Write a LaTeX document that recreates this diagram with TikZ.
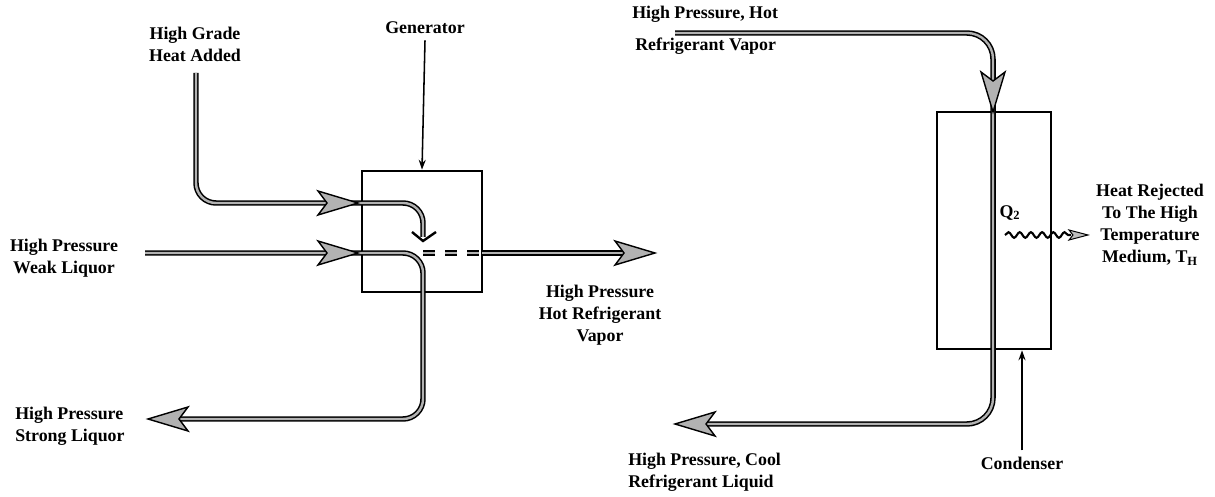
\documentclass[tikz,border=0pt]{standalone}
\usepackage{fontspec}
\setmainfont{Liberation Serif}
\usetikzlibrary{arrows.meta,decorations.pathmorphing}
\begin{document}
\begin{tikzpicture}[x=0.025cm,y=-0.025cm,
  lbl/.style={font=\fontsize{12.7}{15.6}\selectfont\bfseries, inner sep=0pt, align=center},
  lbll/.style={lbl, align=left},
  pipe/.style={line width=1.1pt, draw=black, double=gray!60, double distance=1.7pt},
  vessel/.style={draw, line width=1.9pt, inner sep=0pt, fill=white},
  pointer/.style={line width=1.1pt, -{Stealth[length=7pt,width=5pt]}},
  headpic/.pic={\draw[line width=1pt, fill=gray!60, line join=miter]
      (0,0) -- (-40,-12) -- (-31,0) -- (-40,12) -- cycle;},
  smallhead/.pic={\draw[line width=0.7pt, fill=gray!50, line join=miter]
      (0,0) -- (-19,-5) -- (-15,0) -- (-19,5) -- cycle;},
]
\useasboundingbox (0,0) rectangle (1215,497);

% vessels
\node[vessel, minimum width=3cm, minimum height=3.025cm] (gen) at (422,231.5) {};
\node[vessel, minimum width=2.85cm, minimum height=5.925cm] (cond) at (994,230.5) {};

% labels
\node[lbl] (hg) at (195,44) {High Grade\\Heat Added};
\node[lbl] (genlbl) at (425,28) {Generator};
\node[lbl] (wl) at (64,258) {High Pressure\\Weak Liquor};
\node[lbll, anchor=west] (sl) at (15,426) {High Pressure\\Strong Liquor};
\node[lbl] (hrv) at (600,315) {High Pressure\\Hot Refrigerant\\Vapor};
\node[lbll, anchor=west] (hph) at (632,14) {High Pressure, Hot};
\node[lbll, anchor=west] (rv) at (635,46) {Refrigerant Vapor};
\node[lbll, anchor=west] (rl) at (628,472) {High Pressure, Cool\\Refrigerant Liquid};
\node[lbl] (condlbl) at (1022,463) {Condenser};
\node[lbl] (q2) at (1010,213) {Q\textsubscript{2}};
\node[lbl] (hr) at (1150,225) {Heat Rejected\\To The High\\Temperature\\Medium, T\textsubscript{H}};

% coordinates
\coordinate (hgTop) at (196,73);
\coordinate (hgC) at (196,203);
\coordinate (hgB) at (423,203);
\coordinate (hgEnd) at (423,237);
\coordinate (hgTip) at (358,203);
\coordinate (wlStart) at (145,253);
\coordinate (wlC) at (423,253);
\coordinate (wlD) at (423,419);
\coordinate (slEnd) at (165,419);
\coordinate (slTip) at (148,419);
\coordinate (wlTip) at (358,253);
\coordinate (dA) at (423,253);
\coordinate (dB) at (480,253);
\coordinate (dC) at (482,253);
\coordinate (vOut) at (625,253);
\coordinate (vTip) at (655,253);
\coordinate (cStart) at (675,33);
\coordinate (cC) at (993,33);
\coordinate (cD) at (993,424);
\coordinate (cEnd) at (690,424);
\coordinate (cTip) at (993,112);
\coordinate (lTip) at (675,424);
\coordinate (w1) at (1005,235);
\coordinate (w2) at (1071,235);
\coordinate (wTip) at (1088,235);

% pipes
\draw[pipe, rounded corners=0.5cm] (hgTop) -- (hgC) -- (hgB) -- (hgEnd);
\draw[line width=1.7pt, line join=miter] (412,232) -- (423,241) -- (436,232);
\draw[pipe, rounded corners=0.5cm] (wlStart) -- (wlC) -- (wlD) -- (slEnd);
\draw[pipe, dash pattern=on 0.3cm off 0.25cm] (dA) -- (dB);
\draw[pipe] (dC) -- (vOut);
\draw[pipe, rounded corners=0.65cm] (cStart) -- (cC) -- (cD) -- (cEnd);

% arrow heads
\path (hgTip) pic{headpic};
\path (wlTip) pic{headpic};
\path (vTip) pic{headpic};
\path (slTip) pic[rotate=180]{headpic};
\path (cTip) pic[rotate=-90]{headpic};
\path (lTip) pic[rotate=180]{headpic};

% pointers
\draw[pointer] (genlbl.south) ++(0,6) -- (gen.north);
\draw[pointer] (condlbl.north) ++(0,-6) -- (cond.south -| condlbl.north);

% heat rejected
\draw[line width=1.5pt, decorate, decoration={snake, amplitude=0.07cm, segment length=0.28cm}] (w1) -- (w2);
\path (wTip) pic{smallhead};
\end{tikzpicture}
\end{document}
